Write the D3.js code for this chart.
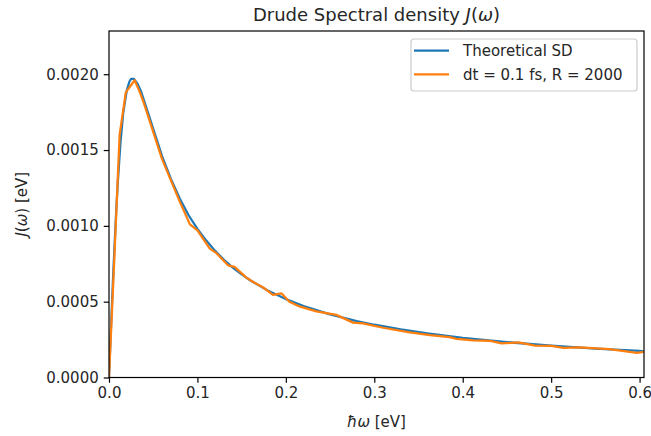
<!DOCTYPE html>
<html>
<head>
<meta charset="utf-8">
<script src="https://cdn.jsdelivr.net/npm/d3@7"></script>
<style>
  body { margin: 0; background: #fff; }
  svg { display: block; font-family: "DejaVu Sans", sans-serif; }
</style>
</head>
<body>
<div id="chart"></div>
<script>
// theoretical Drude spectral density
const theoryW = [0, 0.002, 0.005, 0.008, 0.01, 0.013, 0.016, 0.02, 0.023, 0.025, 0.028, 0.032, 0.036, 0.04,
  0.045, 0.05, 0.055, 0.06, 0.07, 0.08, 0.09, 0.10, 0.11, 0.12, 0.13, 0.14, 0.15, 0.16, 0.18, 0.20,
  0.22, 0.25, 0.28, 0.30, 0.33, 0.36, 0.40, 0.45, 0.50, 0.55, 0.60, 0.605];
const theoryJ = [0, 0.000293, 0.000713, 0.00108, 0.00129, 0.00155, 0.00174, 0.00189, 0.00195, 0.00197, 0.00197,
  0.00194, 0.00189, 0.00182, 0.00173, 0.00164, 0.00155, 0.00146, 0.00131, 0.00118, 0.00107, 0.00098,
  0.000903, 0.000835, 0.000776, 0.000725, 0.00068, 0.00064, 0.000572, 0.000517, 0.000471, 0.000416,
  0.000372, 0.000348, 0.000317, 0.000291, 0.000262, 0.000233, 0.00021, 0.000191, 0.000175, 0.000173];

// simulated spectral density, dt = 0.1 fs, R = 2000
const simW = [0, 0.006, 0.012, 0.019, 0.029, 0.035, 0.04, 0.05, 0.06, 0.07, 0.08, 0.0915, 0.1, 0.114, 0.1215,
  0.1346, 0.142, 0.155, 0.163, 0.174, 0.1855, 0.195, 0.204, 0.216, 0.2346, 0.257, 0.276, 0.287, 0.31,
  0.34, 0.363, 0.385, 0.393, 0.412, 0.431, 0.444, 0.463, 0.482, 0.5, 0.514, 0.532, 0.566, 0.597, 0.607];
const simJ = [0, 0.00078, 0.0016, 0.00188, 0.00196, 0.00188, 0.0018, 0.00162, 0.00144, 0.0013, 0.00116,
  0.00101, 0.00097, 0.00085, 0.00082, 0.00074, 0.00073, 0.00066, 0.00063, 0.000595, 0.000545, 0.000555,
  0.0005, 0.000467, 0.000436, 0.000413, 0.000362, 0.000357, 0.000328, 0.000298, 0.00028, 0.000266,
  0.000255, 0.000245, 0.000242, 0.000225, 0.000231, 0.00021, 0.000208, 0.000195, 0.000198, 0.000187,
  0.000163, 0.00017];

const xTicks = [0, 0.1, 0.2, 0.3, 0.4, 0.5, 0.6];
const yTicks = [0, 0.0005, 0.001, 0.0015, 0.002];
const seriesNames = ['Theoretical SD', 'dt = 0.1 fs, R = 2000'];
const seriesColors = ['#1f77b4', '#ff7f0e'];

const width = 651, height = 436;
const margin = { left: 109, right: 644, top: 31, bottom: 377.5 };

const x = d3.scaleLinear().domain([0, 0.605]).range([margin.left, margin.right]);
const y = d3.scaleLinear().domain([0, 0.002285]).range([margin.bottom, margin.top]);

const svg = d3.select('#chart').append('svg')
  .attr('width', width)
  .attr('height', height);

svg.append('defs').append('clipPath')
  .attr('id', 'plot-clip')
  .append('rect')
  .attr('x', margin.left).attr('y', margin.top)
  .attr('width', margin.right - margin.left).attr('height', margin.bottom - margin.top);

const line = d3.line()
  .x(d => x(d[0]))
  .y(d => y(d[1]));

const series = [
  d3.zip(theoryW, theoryJ),
  d3.zip(simW, simJ)
];

const plot = svg.append('g').attr('clip-path', 'url(#plot-clip)');
plot.selectAll('path')
  .data(series)
  .join('path')
  .attr('d', line)
  .attr('fill', 'none')
  .attr('stroke', (d, i) => seriesColors[i])
  .attr('stroke-width', 2.25)
  .attr('stroke-linejoin', 'round')
  .attr('stroke-linecap', 'square');

// axes
const xAxis = d3.axisBottom(x).tickValues(xTicks).tickFormat(d3.format('.1f'))
  .tickSize(5.25).tickPadding(5);
const yAxis = d3.axisLeft(y).tickValues(yTicks).tickFormat(d3.format('.4f'))
  .tickSize(5.25).tickPadding(5);

const gx = svg.append('g').attr('transform', `translate(0,${margin.bottom})`).call(xAxis);
const gy = svg.append('g').attr('transform', `translate(${margin.left},0)`).call(yAxis);

[gx, gy].forEach(g => {
  g.select('.domain').remove();
  g.selectAll('.tick line').attr('stroke', '#000').attr('stroke-width', 1.2);
  g.selectAll('.tick text')
    .attr('fill', '#262626')
    .style('font-size', '15px')
    .style('font-family', '"DejaVu Sans", sans-serif');
});

// frame
svg.append('rect')
  .attr('x', margin.left).attr('y', margin.top)
  .attr('width', margin.right - margin.left).attr('height', margin.bottom - margin.top)
  .attr('fill', 'none')
  .attr('stroke', '#000')
  .attr('stroke-width', 1.2);

// title
const title = svg.append('text')
  .attr('x', (margin.left + margin.right) / 2)
  .attr('y', 21)
  .attr('text-anchor', 'middle')
  .attr('fill', '#262626')
  .style('font-size', '18px');
title.append('tspan').text('Drude Spectral density ');
title.append('tspan').style('font-style', 'italic').text('J');
title.append('tspan').text('(');
title.append('tspan').style('font-style', 'italic').text('ω');
title.append('tspan').text(')');

// x label
const xl = svg.append('text')
  .attr('x', (margin.left + margin.right) / 2)
  .attr('y', 427)
  .attr('text-anchor', 'middle')
  .attr('fill', '#262626')
  .style('font-size', '15px');
xl.append('tspan').style('font-style', 'italic').text('ħω');
xl.append('tspan').text(' [eV]');

// y label
const yl = svg.append('text')
  .attr('transform', `translate(27,${(margin.top + margin.bottom) / 2}) rotate(-90)`)
  .attr('text-anchor', 'middle')
  .attr('fill', '#262626')
  .style('font-size', '15px');
yl.append('tspan').style('font-style', 'italic').text('J');
yl.append('tspan').text('(');
yl.append('tspan').style('font-style', 'italic').text('ω');
yl.append('tspan').text(') [eV]');

// legend
const legend = svg.append('g');
legend.append('rect')
  .attr('x', 411).attr('y', 39)
  .attr('width', 226).attr('height', 52)
  .attr('rx', 3)
  .attr('fill', '#fff').attr('fill-opacity', 0.8)
  .attr('stroke', '#cccccc').attr('stroke-width', 1.2);

const items = legend.selectAll('g.item')
  .data(seriesNames)
  .join('g')
  .attr('class', 'item')
  .attr('transform', (d, i) => `translate(0,${50.7 + i * 23.6})`);

items.append('line')
  .attr('x1', 414).attr('x2', 449)
  .attr('stroke', (d, i) => seriesColors[i])
  .attr('stroke-width', 2.25);

items.append('text')
  .attr('x', 463)
  .attr('dy', '0.35em')
  .attr('fill', '#262626')
  .style('font-size', '15px')
  .text(d => d);
</script>
</body>
</html>
